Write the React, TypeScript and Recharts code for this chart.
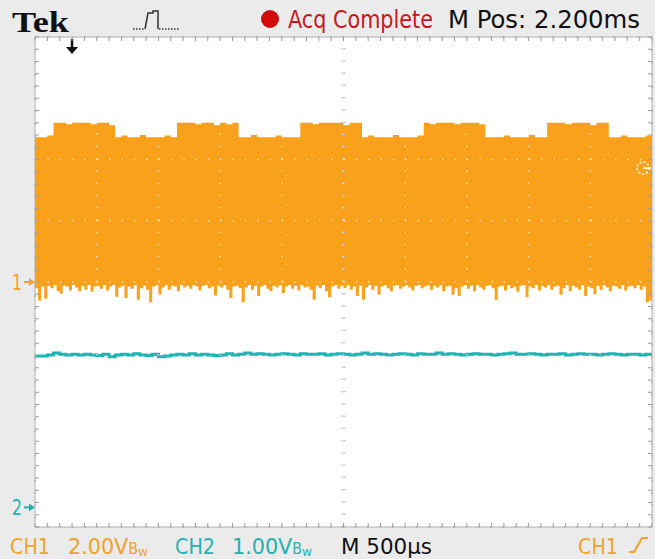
import React from 'react';
import { ComposedChart, Area, Line, XAxis, YAxis, CartesianGrid, ReferenceLine } from 'recharts';

// CH2 sample times (µs) across the 10-division record (500 µs/div)
const timesUs = [
  0, 50, 100, 150, 200, 250, 300, 350, 400, 450, 500, 550, 600, 650, 700, 750, 800, 850, 900, 950,
  1000, 1050, 1100, 1150, 1200, 1250, 1300, 1350, 1400, 1450, 1500, 1550, 1600, 1650, 1700, 1750, 1800, 1850, 1900, 1950,
  2000, 2050, 2100, 2150, 2200, 2250, 2300, 2350, 2400, 2450, 2500, 2550, 2600, 2650, 2700, 2750, 2800, 2850, 2900, 2950,
  3000, 3050, 3100, 3150, 3200, 3250, 3300, 3350, 3400, 3450, 3500, 3550, 3600, 3650, 3700, 3750, 3800, 3850, 3900, 3950,
  4000, 4050, 4100, 4150, 4200, 4250, 4300, 4350, 4400, 4450, 4500, 4550, 4600, 4650, 4700, 4750, 4800, 4850, 4900, 4950,
  5000,
];

// CH1 envelope (V): upper edge, one value per 50 µs
const ch1High = [
  4.73, 4.73, 4.78,
  5.2, 5.2, 5.15, 5.2, 5.2, 5.2, 5.15, 5.2, 5.2, 5.12,
  4.73, 4.78, 4.73, 4.73, 4.8, 4.73, 4.73, 4.73, 4.78, 4.73,
  5.2, 5.2, 5.2, 5.15, 5.2, 5.2, 5.12, 5.2, 5.15, 5.2,
  4.73, 4.73, 4.8, 4.73, 4.73, 4.73, 4.78, 4.73, 4.73, 4.73,
  5.2, 5.2, 5.15, 5.2, 5.2, 5.2, 5.2, 5.12, 5.2, 5.2,
  4.73, 4.78, 4.73, 4.73, 4.73, 4.8, 4.73, 4.73, 4.73, 4.78,
  5.2, 5.15, 5.2, 5.2, 5.2, 5.15, 5.2, 5.2, 5.2, 5.15,
  4.73, 4.73, 4.73, 4.78, 4.73, 4.73, 4.73, 4.8, 4.73, 4.73,
  5.2, 5.2, 5.2, 5.15, 5.2, 5.2, 5.2, 5.12, 5.2, 5.2,
  4.73, 4.73, 4.78, 4.73, 4.73, 4.73, 4.78, 4.73,
];

// CH1 envelope (V): lower edge with glitch spikes, one value per 25 µs
const ch1Low = [
  -0.2, -0.6, -0.15, -0.55, -0.12, -0.2, -0.1, -0.3, -0.38, -0.12, -0.15, -0.28, -0.1, -0.18, -0.3, -0.12, -0.25, -0.1, -0.32, -0.15,
  -0.12, -0.22, -0.1, -0.28, -0.15, -0.1, -0.48, -0.18, -0.12, -0.52, -0.15, -0.22, -0.1, -0.58, -0.2, -0.12, -0.25, -0.66, -0.15, -0.1,
  -0.42, -0.18, -0.1, -0.25, -0.12, -0.15, -0.3, -0.1, -0.18, -0.12, -0.22, -0.1, -0.15, -0.28, -0.12, -0.1, -0.2, -0.15, -0.44, -0.12,
  -0.18, -0.1, -0.25, -0.52, -0.15, -0.12, -0.2, -0.66, -0.18, -0.1, -0.25, -0.12, -0.46, -0.15, -0.1, -0.22, -0.3, -0.12, -0.18, -0.1,
  -0.36, -0.15, -0.1, -0.22, -0.12, -0.28, -0.1, -0.18, -0.15, -0.25, -0.58, -0.12, -0.2, -0.1, -0.3, -0.5, -0.15, -0.1, -0.22, -0.12,
  -0.2, -0.1, -0.25, -0.15, -0.46, -0.12, -0.58, -0.18, -0.1, -0.25, -0.12, -0.42, -0.15, -0.1, -0.2, -0.3, -0.12, -0.1, -0.22, -0.15,
  -0.1, -0.18, -0.28, -0.12, -0.1, -0.2, -0.15, -0.1, -0.25, -0.12, -0.18, -0.1, -0.3, -0.15, -0.12, -0.42, -0.2, -0.46, -0.15, -0.1,
  -0.22, -0.12, -0.3, -0.1, -0.18, -0.25, -0.12, -0.1, -0.2, -0.58, -0.15, -0.12, -0.28, -0.1, -0.2, -0.15, -0.32, -0.12, -0.1, -0.5,
  -0.15, -0.2, -0.1, -0.28, -0.12, -0.18, -0.1, -0.25, -0.15, -0.12, -0.42, -0.2, -0.1, -0.3, -0.12, -0.18, -0.25, -0.1, -0.46, -0.15,
  -0.2, -0.4, -0.12, -0.25, -0.1, -0.18, -0.3, -0.12, -0.15, -0.22, -0.1, -0.28, -0.15, -0.12, -0.2, -0.1, -0.25, -0.15, -0.66, -0.6,
  -0.55,
];

// CH2 trace (V)
const ch2Volts = [
  2.47, 2.47, 2.49, 2.52, 2.5, 2.49, 2.5, 2.49, 2.5, 2.49,
  2.48, 2.5, 2.46, 2.49, 2.5, 2.49, 2.51, 2.49, 2.48, 2.5,
  2.46, 2.47, 2.49, 2.5, 2.49, 2.51, 2.49, 2.5, 2.49, 2.48,
  2.49, 2.51, 2.49, 2.5, 2.52, 2.5, 2.51, 2.5, 2.49, 2.5,
  2.51, 2.5, 2.49, 2.51, 2.5, 2.5, 2.51, 2.49, 2.5, 2.51,
  2.5, 2.49, 2.5, 2.52, 2.5, 2.51, 2.5, 2.49, 2.5, 2.51,
  2.5, 2.49, 2.51, 2.5, 2.5, 2.52, 2.5, 2.51, 2.5, 2.49,
  2.5, 2.51, 2.5, 2.5, 2.49, 2.5, 2.51, 2.52, 2.5, 2.5,
  2.51, 2.5, 2.49, 2.5, 2.5, 2.51, 2.49, 2.5, 2.51, 2.5,
  2.5, 2.49, 2.5, 2.51, 2.5, 2.49, 2.5, 2.5, 2.49, 2.5,
  2.51,
];

// grid divisions
const gridTimes = [500, 1000, 1500, 2000, 2500, 3000, 3500, 4000, 4500];
const gridVolts = [-6, -4, -2, 0, 2, 4, 6];
const minorTimeTicks = Array.from({ length: 51 }, (_, i) => i * 100);
const minorVoltTicks = Array.from({ length: 41 }, (_, i) => -8 + i * 0.4);

const ch1Domain = [-8, 8];
const ch2Domain = [-0.32, 7.68];
const triggerPosUs = 300;
const triggerLevelV = 3.72;
const ch1StepUs = 25;

const ORANGE = '#f9a11b';
const CYAN = '#1fb3b1';
const TXT_ORANGE = '#f3a12a';
const TXT_CYAN = '#22b2b0';

const ch1Data = ch1Low.map((lo, i) => ({ t: i * ch1StepUs, ch1: [lo, ch1High[Math.min(Math.floor(i / 2), ch1High.length - 1)]] }));
const ch2Data = timesUs.map((t, i) => ({ t, ch2: ch2Volts[i] }));

const GroundMark = (color: string, label: string) => (props: any) => {
  const vb = props.viewBox || {};
  const x = vb.x;
  const y = vb.y;
  return (
    <g>
      <text x={x - 23} y={y + 8} fontSize={22} fill={color} fontFamily="'Liberation Sans Narrow','DejaVu Sans Condensed',sans-serif" textLength={10} lengthAdjust="spacingAndGlyphs">{label}</text>
      <path d={`M${x - 11},${y} L${x - 5},${y}`} stroke={color} strokeWidth={2} />
      <path d={`M${x - 6},${y - 4} L${x},${y} L${x - 6},${y + 4} Z`} fill={color} />
    </g>
  );
};

const TriggerArrow = (props: any) => {
  const vb = props.viewBox || {};
  const x = vb.x;
  const y = vb.y;
  return (
    <g>
      <path d={`M${x},${y + 2} L${x},${y + 11}`} stroke="#111" strokeWidth={2.5} />
      <path d={`M${x - 6},${y + 10} L${x + 6},${y + 10} L${x},${y + 17} Z`} fill="#111" />
    </g>
  );
};

const TrigLevelMark = (props: any) => {
  const vb = props.viewBox || {};
  const x = vb.x + vb.width - 9;
  const y = vb.y;
  return (
    <g>
      <circle cx={x} cy={y} r={6} fill="none" stroke="#fff3d0" strokeWidth={2} strokeDasharray="2 2" />
      <path d={`M${x},${y} L${x + 8},${y}`} stroke="#fff3d0" strokeWidth={2} />
    </g>
  );
};

const noTick = () => <g />;

const narrow = "'Liberation Sans Narrow','DejaVu Sans Condensed','Roboto',sans-serif";

export default function App() {
  return (
    <div style={{ position: 'absolute', left: 0, top: 0, width: 655, height: 559, background: '#ebebeb', overflow: 'hidden' }}>
      <ComposedChart width={655} height={559} margin={{ top: 37, right: 3, bottom: 32, left: 35 }}>
        <XAxis xAxisId="g" dataKey="t" type="number" domain={[0, 5000]} ticks={gridTimes} hide />
        <YAxis yAxisId="gy" type="number" domain={ch1Domain} ticks={gridVolts} hide />
        <CartesianGrid xAxisId="g" yAxisId="gy" fill="#ffffff" stroke="#a9a9a9" strokeWidth={1.6} strokeDasharray="1.6 10.7" />
        <XAxis xAxisId="t" dataKey="t" type="number" domain={[0, 5000]} ticks={minorTimeTicks} orientation="bottom" mirror tick={noTick} tickSize={4} stroke="#b0b0b0" tickLine={{ stroke: '#9c9c9c' }} allowDataOverflow interval={0} />
        <XAxis xAxisId="tTop" dataKey="t" type="number" domain={[0, 5000]} ticks={minorTimeTicks} orientation="top" mirror tick={noTick} tickSize={4} stroke="#b0b0b0" tickLine={{ stroke: '#9c9c9c' }} allowDataOverflow interval={0} />
        <YAxis yAxisId="ch1" type="number" domain={ch1Domain} ticks={minorVoltTicks} orientation="left" mirror tick={noTick} tickSize={4} stroke="#b0b0b0" tickLine={{ stroke: '#9c9c9c' }} allowDataOverflow interval={0} />
        <YAxis yAxisId="ch1r" type="number" domain={ch1Domain} ticks={minorVoltTicks} orientation="right" mirror tick={noTick} tickSize={4} stroke="#b0b0b0" tickLine={{ stroke: '#9c9c9c' }} allowDataOverflow interval={0} />
        <YAxis yAxisId="ch2" type="number" domain={ch2Domain} hide allowDataOverflow />
        <ReferenceLine xAxisId="t" yAxisId="ch1" x={2500} stroke="#b4b4b4" strokeWidth={4} strokeDasharray="1.2 11.05" />
        <Area data={ch1Data} xAxisId="t" yAxisId="ch1" dataKey="ch1" type="stepAfter" stroke="none" fill={ORANGE} fillOpacity={1} isAnimationActive={false} />
        <Line data={ch2Data} xAxisId="t" yAxisId="ch2" dataKey="ch2" type="stepAfter" stroke={CYAN} strokeWidth={3} dot={false} isAnimationActive={false} />
        {gridTimes.map((g) => (
          <ReferenceLine key={'vx' + g} xAxisId="t" yAxisId="ch1" x={g} stroke="#ffffff" strokeOpacity={0.6} strokeWidth={1.6} strokeDasharray="1.6 10.65" />
        ))}
        {gridVolts.map((g) => (
          <ReferenceLine key={'hy' + g} xAxisId="t" yAxisId="ch1" y={g} stroke="#ffffff" strokeOpacity={0.6} strokeWidth={1.6} strokeDasharray="1.6 10.74" />
        ))}
        <ReferenceLine xAxisId="t" yAxisId="ch1" y={0} stroke="none" label={GroundMark(TXT_ORANGE, '1')} />
        <ReferenceLine xAxisId="t" yAxisId="ch2" y={0} stroke="none" label={GroundMark(TXT_CYAN, '2')} />
        <ReferenceLine xAxisId="t" yAxisId="ch1" x={triggerPosUs} stroke="none" label={TriggerArrow} />
        <ReferenceLine xAxisId="t" yAxisId="ch1" y={triggerLevelV} stroke="none" label={TrigLevelMark} />
      </ComposedChart>
      <svg width={655} height={559} style={{ position: 'absolute', left: 0, top: 0, pointerEvents: 'none' }}>
        <text x={12} y={32} fontSize={29} fontWeight="bold" fontFamily="'Liberation Serif','DejaVu Serif',serif" fill="#111" textLength={57} lengthAdjust="spacingAndGlyphs">Tek</text>
        <path d="M133,29 L145,29" stroke="#333" strokeWidth={1.5} strokeDasharray="1.5 1.5" />
        <path d="M145,29 L148,13 L153,13 L153,11 L158,11 L158,29" stroke="#333" strokeWidth={1.5} fill="none" />
        <path d="M159,29 L180,29" stroke="#333" strokeWidth={1.5} strokeDasharray="1.5 1.5" />
        <circle cx={270} cy={19} r={9} fill="#d10a0a" />
        <text x={288} y={28} fontSize={24} fontFamily={narrow} fill="#c81620" textLength={145} lengthAdjust="spacingAndGlyphs">Acq Complete</text>
        <text x={448} y={28} fontSize={24} fontFamily={narrow} fill="#111" textLength={192} lengthAdjust="spacingAndGlyphs">M Pos: 2.200ms</text>

        <text x={10} y={554} fontSize={22} fontFamily={narrow} fill={TXT_ORANGE} textLength={40} lengthAdjust="spacingAndGlyphs">CH1</text>
        <text x={68} y={554} fontSize={22} fontFamily={narrow} fill={TXT_ORANGE} textLength={80} lengthAdjust="spacingAndGlyphs">2.00V<tspan fontSize={15}>B</tspan><tspan fontSize={13} dy={2}>w</tspan></text>
        <text x={175} y={554} fontSize={22} fontFamily={narrow} fill={TXT_CYAN} textLength={40} lengthAdjust="spacingAndGlyphs">CH2</text>
        <text x={232} y={554} fontSize={22} fontFamily={narrow} fill={TXT_CYAN} textLength={80} lengthAdjust="spacingAndGlyphs">1.00V<tspan fontSize={15}>B</tspan><tspan fontSize={13} dy={2}>w</tspan></text>
        <text x={341} y={554} fontSize={22} fontFamily={narrow} fill="#111" textLength={91} lengthAdjust="spacingAndGlyphs">M 500µs</text>
        <text x={578} y={554} fontSize={22} fontFamily={narrow} fill={TXT_ORANGE} textLength={40} lengthAdjust="spacingAndGlyphs">CH1</text>
        <path d="M629,552 L634,552 L642,538 L648,538" stroke={TXT_ORANGE} strokeWidth={2.2} fill="none" />
      </svg>
    </div>
  );
}
